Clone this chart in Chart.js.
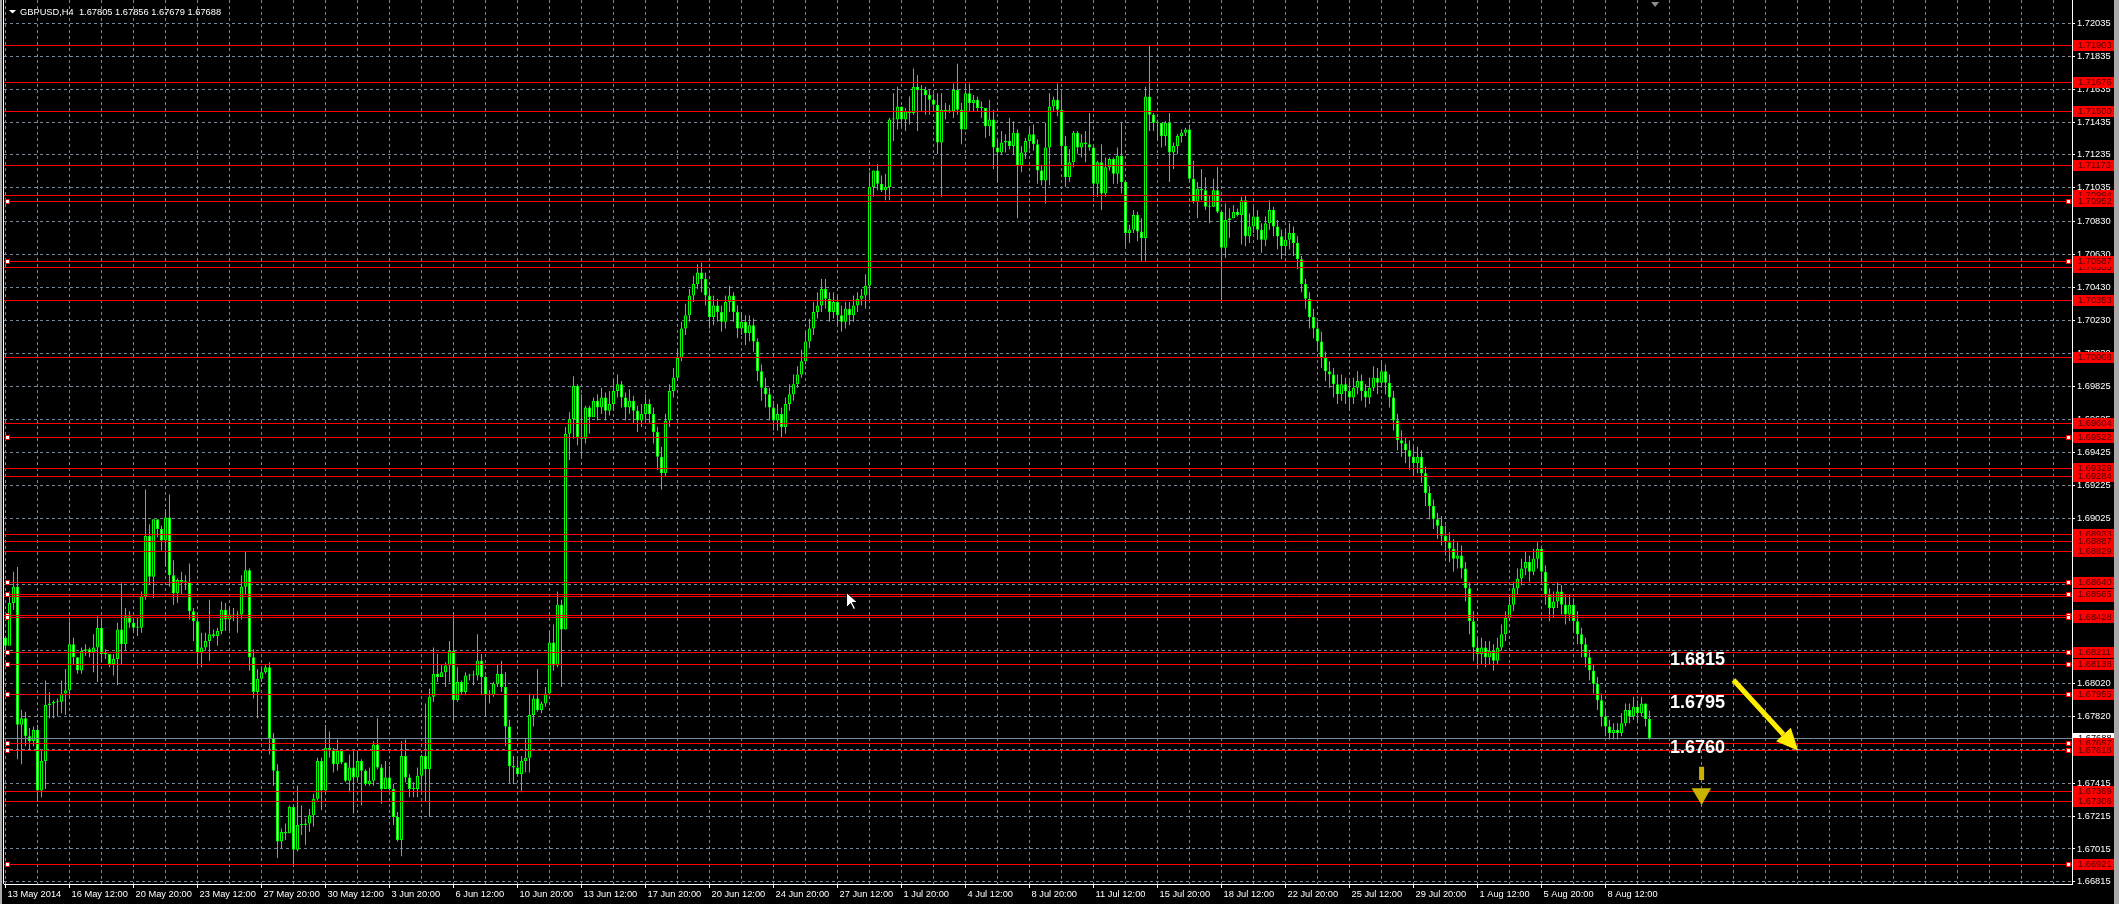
<!DOCTYPE html>
<html>
<head>
<meta charset="utf-8">
<title>GBPUSD,H4</title>
<script src="https://cdn.jsdelivr.net/npm/chart.js@4.4.1/dist/chart.umd.min.js"></script>
<style>
  html, body { margin: 0; padding: 0; background: #000; overflow: hidden; }
</style>
</head>
<body>
<canvas id="gbpusdChart" width="2119" height="904"></canvas>
<script>
const symbolName = "GBPUSD";
const timeframe = "H4";

// bottom axis labels, one every 16 bars
const timeLabels = ["13 May 2014", "16 May 12:00", "20 May 20:00", "23 May 12:00", "27 May 20:00",
  "30 May 12:00", "3 Jun 20:00", "6 Jun 12:00", "10 Jun 20:00", "13 Jun 12:00", "17 Jun 20:00",
  "20 Jun 12:00", "24 Jun 20:00", "27 Jun 12:00", "1 Jul 20:00", "4 Jul 12:00", "8 Jul 20:00",
  "11 Jul 12:00", "15 Jul 20:00", "18 Jul 12:00", "22 Jul 20:00", "25 Jul 12:00", "29 Jul 20:00",
  "1 Aug 12:00", "5 Aug 20:00", "8 Aug 12:00"];

// right axis price labels
const priceTicks = [1.72035, 1.71835, 1.71635, 1.71435, 1.71235, 1.71035, 1.70830, 1.70630, 1.70430,
  1.70230, 1.70030, 1.69825, 1.69625, 1.69425, 1.69225, 1.69025, 1.68825, 1.68625, 1.68420, 1.68220,
  1.68020, 1.67820, 1.67620, 1.67415, 1.67215, 1.67015, 1.66815];

// H4 candles (fx bars open at the previous close)
const firstOpen = 1.6830;
const closes = [
  1.6825,1.6851,1.6861,1.6777,1.6781,1.6770,1.6767,1.6774,1.6737,1.6755,1.6789,1.6790,1.6791,1.6791,1.6796,1.6798,
  1.6826,1.6818,1.6810,1.6822,1.6823,1.6821,1.6824,1.6836,1.6820,1.6820,1.6814,1.6817,1.6835,1.6826,1.6843,1.6839,
  1.6836,1.6836,1.6855,1.6892,1.6867,1.6902,1.6896,1.6889,1.6903,1.6868,1.6857,1.6865,1.6864,1.6864,1.6846,1.6840,
  1.6821,1.6824,1.6828,1.6832,1.6831,1.6834,1.6847,1.6841,1.6844,1.6843,1.6844,1.6861,1.6871,1.6818,1.6797,1.6805,
  1.6809,1.6812,1.6769,1.6749,1.6706,1.6712,1.6711,1.6727,1.6701,1.6716,1.6716,1.6717,1.6722,1.6732,1.6755,1.6737,
  1.6763,1.6762,1.6753,1.6761,1.6754,1.6743,1.6751,1.6745,1.6755,1.6749,1.6741,1.6743,1.6765,1.6751,1.6738,1.6745,
  1.6738,1.6721,1.6707,1.6758,1.6745,1.6738,1.6738,1.6746,1.6758,1.6750,1.6794,1.6808,1.6806,1.6809,1.6813,1.6822,
  1.6792,1.6803,1.6797,1.6807,1.6807,1.6807,1.6816,1.6806,1.6795,1.6795,1.6802,1.6808,1.6800,1.6776,1.6752,1.6751,
  1.6747,1.6755,1.6757,1.6783,1.6793,1.6786,1.6790,1.6796,1.6827,1.6813,1.6850,1.6835,1.6954,1.6963,1.6983,1.6952,
  1.6951,1.6970,1.6964,1.6974,1.6970,1.6976,1.6968,1.6972,1.6980,1.6984,1.6976,1.6970,1.6974,1.6968,1.6962,1.6966,
  1.6972,1.6966,1.6955,1.6940,1.6930,1.6962,1.6980,1.6988,1.7000,1.7018,1.7026,1.7038,1.7045,1.7052,1.7048,1.7038,
  1.7025,1.7032,1.7028,1.7022,1.7034,1.7038,1.7028,1.7018,1.7022,1.7015,1.7020,1.7010,1.6992,1.6982,1.6978,1.6970,
  1.6962,1.6966,1.6958,1.6972,1.6978,1.6984,1.6990,1.6998,1.7010,1.7018,1.7028,1.7032,1.7042,1.7036,1.7028,1.7034,
  1.7026,1.7022,1.7030,1.7026,1.7032,1.7036,1.7038,1.7044,1.7104,1.7114,1.7106,1.7102,1.7104,1.7145,1.7145,1.7153,
  1.7145,1.7150,1.7149,1.7165,1.7163,1.7163,1.7160,1.7157,1.7154,1.7131,1.7151,1.7150,1.7150,1.7163,1.7151,1.7139,
  1.7161,1.7155,1.7157,1.7152,1.7152,1.7141,1.7145,1.7128,1.7125,1.7131,1.7132,1.7129,1.7137,1.7117,1.7125,1.7132,
  1.7136,1.7130,1.7114,1.7108,1.7128,1.7153,1.7157,1.7151,1.7129,1.7110,1.7119,1.7137,1.7128,1.7131,1.7130,1.7128,
  1.7106,1.7119,1.7100,1.7116,1.7121,1.7112,1.7123,1.7107,1.7076,1.7078,1.7087,1.7077,1.7073,1.7159,1.7148,1.7143,
  1.7143,1.7135,1.7143,1.7125,1.7129,1.7135,1.7137,1.7139,1.7109,1.7095,1.7103,1.7102,1.7092,1.7092,1.7102,1.7089,
  1.7067,1.7084,1.7085,1.7089,1.7087,1.7096,1.7074,1.7080,1.7086,1.7078,1.7072,1.7082,1.7090,1.7080,1.7074,1.7068,
  1.7072,1.7076,1.7070,1.7060,1.7045,1.7036,1.7025,1.7018,1.7010,1.7000,1.6992,1.6990,1.6984,1.6978,1.6984,1.6980,
  1.6976,1.6982,1.6986,1.6980,1.6976,1.6982,1.6988,1.6985,1.6992,1.6985,1.6976,1.6962,1.6950,1.6948,1.6944,1.6940,
  1.6936,1.6940,1.6930,1.6918,1.6910,1.6902,1.6898,1.6892,1.6888,1.6884,1.6878,1.6880,1.6872,1.6860,1.6840,1.6824,
  1.6820,1.6824,1.6818,1.6822,1.6816,1.6824,1.6832,1.6842,1.6850,1.6860,1.6866,1.6872,1.6876,1.6870,1.6878,1.6884,
  1.6870,1.6856,1.6848,1.6852,1.6858,1.6850,1.6844,1.6850,1.6840,1.6832,1.6826,1.6818,1.6810,1.6802,1.6792,1.6782,
  1.6776,1.6772,1.6774,1.6772,1.6778,1.6786,1.6782,1.6788,1.6784,1.6790,1.67805,1.67688
];
const highs = [
  1.6831,1.6858,1.6870,1.6873,1.6786,1.6785,1.6775,1.6776,1.6777,1.6761,1.6804,1.6797,1.6792,1.6793,1.6804,1.6811,
  1.6840,1.6830,1.6818,1.6824,1.6826,1.6824,1.6832,1.6843,1.6841,1.6823,1.6819,1.6820,1.6839,1.6863,1.6848,1.6846,
  1.6841,1.6842,1.6858,1.6920,1.6899,1.6902,1.6902,1.6898,1.6908,1.6917,1.6877,1.6866,1.6870,1.6868,1.6875,1.6848,
  1.6843,1.6833,1.6833,1.6853,1.6835,1.6836,1.6852,1.6851,1.6848,1.6848,1.6846,1.6868,1.6882,1.6872,1.6823,1.6811,
  1.6812,1.6814,1.6815,1.6772,1.6753,1.6714,1.6717,1.6728,1.6728,1.6740,1.6728,1.6720,1.6726,1.6735,1.6757,1.6757,
  1.6777,1.6773,1.6763,1.6768,1.6762,1.6754,1.6759,1.6761,1.6761,1.6756,1.6750,1.6751,1.6767,1.6781,1.6753,1.6755,
  1.6752,1.6741,1.6724,1.6767,1.6768,1.6747,1.6742,1.6751,1.6759,1.6790,1.6799,1.6824,1.6820,1.6814,1.6815,1.6828,
  1.6845,1.6812,1.6804,1.6809,1.6808,1.6810,1.6832,1.6820,1.6807,1.6798,1.6803,1.6814,1.6816,1.6809,1.6780,1.6758,
  1.6756,1.6758,1.6769,1.6796,1.6795,1.6811,1.6791,1.6800,1.6833,1.6838,1.6858,1.6853,1.6958,1.6967,1.6989,1.6984,
  1.6978,1.6971,1.6971,1.6976,1.6978,1.6982,1.6979,1.6980,1.6987,1.6990,1.6986,1.6979,1.6981,1.6977,1.6971,1.6972,
  1.6978,1.6975,1.6970,1.6958,1.6946,1.6966,1.6984,1.6994,1.7006,1.7022,1.7033,1.7042,1.7050,1.7057,1.7058,1.7052,
  1.7042,1.7038,1.7036,1.7032,1.7038,1.7044,1.7040,1.7032,1.7028,1.7026,1.7026,1.7024,1.7012,1.6996,1.6988,1.6982,
  1.6974,1.6972,1.6970,1.6976,1.6984,1.6990,1.6995,1.7005,1.7016,1.7024,1.7034,1.7040,1.7048,1.7048,1.7040,1.7040,
  1.7038,1.7032,1.7034,1.7034,1.7038,1.7040,1.7042,1.7051,1.7113,1.7114,1.7118,1.7111,1.7112,1.7146,1.7161,1.7165,
  1.7153,1.7152,1.7159,1.7176,1.7172,1.7166,1.7165,1.7163,1.7161,1.7161,1.7161,1.7155,1.7154,1.7167,1.7179,1.7155,
  1.7167,1.7167,1.7160,1.7159,1.7156,1.7152,1.7157,1.7151,1.7133,1.7138,1.7136,1.7146,1.7144,1.7139,1.7129,1.7134,
  1.7140,1.7142,1.7133,1.7117,1.7143,1.7161,1.7159,1.7167,1.7161,1.7135,1.7127,1.7138,1.7138,1.7136,1.7138,1.7149,
  1.7129,1.7120,1.7130,1.7122,1.7122,1.7122,1.7128,1.7143,1.7108,1.7081,1.7090,1.7089,1.7085,1.7165,1.7190,1.7149,
  1.7145,1.7141,1.7144,1.7149,1.7131,1.7136,1.7139,1.7140,1.7142,1.7120,1.7107,1.7115,1.7110,1.7099,1.7109,1.7116,
  1.7089,1.7094,1.7091,1.7093,1.7091,1.7098,1.7099,1.7088,1.7092,1.7090,1.7082,1.7086,1.7096,1.7092,1.7084,1.7078,
  1.7078,1.7082,1.7080,1.7074,1.7062,1.7048,1.7040,1.7030,1.7022,1.7016,1.7004,1.6998,1.6994,1.6990,1.6990,1.6988,
  1.6986,1.6988,1.6992,1.6990,1.6984,1.6988,1.6995,1.6994,1.6998,1.6996,1.6990,1.6980,1.6966,1.6956,1.6952,1.6950,
  1.6946,1.6946,1.6944,1.6934,1.6922,1.6914,1.6906,1.6904,1.6898,1.6894,1.6890,1.6888,1.6886,1.6876,1.6864,1.6846,
  1.6830,1.6830,1.6828,1.6828,1.6826,1.6830,1.6838,1.6846,1.6856,1.6864,1.6872,1.6878,1.6882,1.6880,1.6884,1.6888,
  1.6886,1.6874,1.6860,1.6858,1.6864,1.6862,1.6856,1.6856,1.6854,1.6846,1.6836,1.6830,1.6822,1.6814,1.6806,1.6796,
  1.6786,1.6780,1.6778,1.6778,1.6784,1.6790,1.6790,1.6794,1.6792,1.6794,1.6790,1.67856
];
const lows = [
  1.6822,1.6827,1.6847,1.6756,1.6753,1.6764,1.6761,1.6764,1.6730,1.6733,1.6738,1.6781,1.6781,1.6782,1.6784,1.6783,
  1.6793,1.6814,1.6808,1.6808,1.6819,1.6818,1.6809,1.6803,1.6815,1.6817,1.6812,1.6807,1.6801,1.6814,1.6822,1.6836,
  1.6833,1.6831,1.6833,1.6853,1.6862,1.6854,1.6891,1.6883,1.6873,1.6861,1.6850,1.6851,1.6856,1.6859,1.6841,1.6828,
  1.6813,1.6812,1.6822,1.6816,1.6830,1.6825,1.6832,1.6834,1.6834,1.6840,1.6833,1.6841,1.6856,1.6810,1.6793,1.6781,
  1.6803,1.6808,1.6759,1.6740,1.6696,1.6702,1.6707,1.6711,1.6692,1.6700,1.6710,1.6704,1.6712,1.6715,1.6731,1.6725,
  1.6735,1.6757,1.6748,1.6749,1.6753,1.6742,1.6736,1.6723,1.6743,1.6728,1.6740,1.6740,1.6740,1.6750,1.6729,1.6738,
  1.6737,1.6716,1.6706,1.6697,1.6742,1.6733,1.6733,1.6733,1.6736,1.6730,1.6721,1.6791,1.6803,1.6806,1.6800,1.6803,
  1.6779,1.6791,1.6795,1.6795,1.6804,1.6801,1.6804,1.6795,1.6782,1.6790,1.6794,1.6800,1.6797,1.6764,1.6741,1.6741,
  1.6746,1.6736,1.6748,1.6748,1.6776,1.6785,1.6784,1.6788,1.6795,1.6810,1.6812,1.6800,1.6835,1.6938,1.6951,1.6947,
  1.6940,1.6948,1.6954,1.6966,1.6962,1.6966,1.6962,1.6965,1.6968,1.6976,1.6970,1.6962,1.6966,1.6960,1.6955,1.6958,
  1.6962,1.6960,1.6948,1.6932,1.6920,1.6928,1.6958,1.6976,1.6986,1.6998,1.7014,1.7022,1.7034,1.7042,1.7040,1.7032,
  1.7018,1.7020,1.7022,1.7016,1.7018,1.7028,1.7022,1.7012,1.7014,1.7008,1.7010,1.7004,1.6986,1.6974,1.6970,1.6962,
  1.6956,1.6956,1.6952,1.6954,1.6968,1.6974,1.6982,1.6988,1.6996,1.7006,1.7014,1.7024,1.7028,1.7030,1.7022,1.7024,
  1.7020,1.7016,1.7018,1.7020,1.7022,1.7028,1.7032,1.7030,1.7035,1.7098,1.7102,1.7101,1.7096,1.7096,1.7132,1.7139,
  1.7140,1.7138,1.7142,1.7148,1.7138,1.7150,1.7148,1.7148,1.7150,1.7124,1.7098,1.7145,1.7149,1.7146,1.7148,1.7130,
  1.7139,1.7150,1.7150,1.7150,1.7146,1.7134,1.7135,1.7115,1.7107,1.7124,1.7125,1.7127,1.7124,1.7085,1.7113,1.7121,
  1.7127,1.7126,1.7106,1.7105,1.7094,1.7105,1.7150,1.7147,1.7119,1.7104,1.7107,1.7116,1.7124,1.7122,1.7119,1.7126,
  1.7098,1.7098,1.7090,1.7098,1.7114,1.7106,1.7106,1.7100,1.7068,1.7070,1.7076,1.7071,1.7059,1.7059,1.7138,1.7138,
  1.7132,1.7128,1.7129,1.7107,1.7115,1.7124,1.7131,1.7135,1.7108,1.7094,1.7085,1.7096,1.7090,1.7082,1.7092,1.7088,
  1.7035,1.7061,1.7073,1.7085,1.7086,1.7069,1.7068,1.7070,1.7076,1.7072,1.7064,1.7068,1.7078,1.7074,1.7066,1.7060,
  1.7062,1.7066,1.7062,1.7054,1.7040,1.7030,1.7018,1.7012,1.7004,1.6994,1.6986,1.6982,1.6976,1.6972,1.6974,1.6972,
  1.6968,1.6972,1.6978,1.6974,1.6970,1.6972,1.6980,1.6978,1.6982,1.6978,1.6970,1.6956,1.6944,1.6940,1.6936,1.6932,
  1.6928,1.6930,1.6924,1.6910,1.6902,1.6896,1.6890,1.6886,1.6880,1.6876,1.6870,1.6872,1.6866,1.6852,1.6832,1.6816,
  1.6812,1.6814,1.6812,1.6814,1.6810,1.6814,1.6822,1.6828,1.6840,1.6846,1.6856,1.6862,1.6868,1.6864,1.6868,1.6872,
  1.6862,1.6850,1.6840,1.6842,1.6848,1.6844,1.6838,1.6840,1.6834,1.6826,1.6818,1.6812,1.6804,1.6796,1.6786,1.6776,
  1.6770,1.6768,1.6768,1.6768,1.6770,1.6776,1.6778,1.6780,1.6778,1.6782,1.6776,1.67679
];

// horizontal lines drawn on the chart (order = paint order of their axis tags)
const redLevels = [1.71903, 1.71676, 1.71500, 1.71173, 1.70994, 1.70952, 1.70555, 1.70587, 1.70353,
  1.70008, 1.69604, 1.69522, 1.69329, 1.69284, 1.68933, 1.68887, 1.68829, 1.68640, 1.68555, 1.68565,
  1.68440, 1.68428, 1.68211, 1.68138, 1.67955, 1.67657, 1.67618, 1.67369, 1.67306, 1.66921];
// lines that are selected (little squares at both ends)
const selectedLevels = [1.70952, 1.70587, 1.69522, 1.68640, 1.68565, 1.68440, 1.68428, 1.68211,
  1.68138, 1.67955, 1.67657, 1.67618, 1.66921];
const bidPrice = 1.67688;

// text notes on the right side
const noteTexts = ["1.6815", "1.6795", "1.6760"];
const notePrices = [1.68164, 1.67900, 1.67627];

const opens = closes.map((c, i) => (i === 0 ? firstOpen : closes[i - 1]));
const labelByBar = {};
timeLabels.forEach((t, k) => { labelByBar[k * 16] = t; });
const gridBars = [];
for (let b = 0; b <= 512; b += 8) gridBars.push(b);

const axisFont = { family: "'Liberation Sans', Arial, sans-serif", size: 9.3 };
const gridColor = "#778899";

function hline(ctx, x1, x2, y) {
  ctx.beginPath();
  ctx.moveTo(x1, y);
  ctx.lineTo(x2, y);
  ctx.stroke();
}

const mt4Look = {
  id: "mt4Look",
  beforeDraw(chart) {
    const ctx = chart.ctx;
    ctx.save();
    ctx.fillStyle = "#000";
    ctx.fillRect(0, 0, chart.width, chart.height);
    ctx.restore();
  },
  afterDraw(chart) {
    const { ctx, chartArea: a, scales: { x, y } } = chart;
    ctx.save();

    // window frame bits
    ctx.fillStyle = "#a9a9a9";
    ctx.fillRect(0, 0, 2, chart.height);
    ctx.fillRect(chart.width - 5, 0, 5, chart.height);
    ctx.strokeStyle = "#fff";
    ctx.lineWidth = 1;
    ctx.beginPath();
    ctx.moveTo(3.5, 0);
    ctx.lineTo(3.5, a.bottom);
    ctx.stroke();

    // bid line
    ctx.strokeStyle = gridColor;
    hline(ctx, a.left, a.right, Math.round(y.getPixelForValue(bidPrice)) + 0.5);

    // red levels
    ctx.strokeStyle = "#ff0000";
    redLevels.forEach(p => hline(ctx, a.left, a.right, Math.round(y.getPixelForValue(p)) + 0.5));

    // selection squares
    selectedLevels.forEach(p => {
      const yy = Math.round(y.getPixelForValue(p));
      [a.left + 1, a.right - 6].forEach(xx => {
        ctx.fillStyle = "#ff0000";
        ctx.fillRect(xx, yy - 2, 5, 5);
        ctx.fillStyle = "#fff";
        ctx.fillRect(xx + 1, yy - 1, 3, 3);
      });
    });

    // price tags on the axis
    ctx.font = "9.3px 'Liberation Sans', Arial, sans-serif";
    ctx.textBaseline = "middle";
    ctx.textAlign = "left";
    const tag = (p, bg, fg) => {
      const yy = Math.round(y.getPixelForValue(p));
      ctx.fillStyle = bg;
      ctx.fillRect(a.right + 1, yy - 5, 41, 11);
      ctx.fillStyle = fg;
      ctx.fillText(p.toFixed(5), a.right + 6, yy + 0.5);
    };
    tag(bidPrice, "#ffffff", "#000000");
    redLevels.forEach(p => tag(p, "#ff0000", "#4a0000"));

    // notes
    ctx.font = "bold 18px 'Liberation Sans', Arial, sans-serif";
    ctx.fillStyle = "#ffffff";
    noteTexts.forEach((t, k) => {
      ctx.fillText(t, x.getPixelForValue(416.1), y.getPixelForValue(notePrices[k]));
    });

    // yellow arrow (towards 1.6760)
    const x1 = x.getPixelForValue(432), y1 = y.getPixelForValue(1.68042);
    const x2 = x.getPixelForValue(448.2), y2 = y.getPixelForValue(1.67612);
    const ang = Math.atan2(y2 - y1, x2 - x1);
    const headLen = 22, headHalf = 10;
    const bx = x2 - headLen * Math.cos(ang), by = y2 - headLen * Math.sin(ang);
    ctx.strokeStyle = "#ffee00";
    ctx.fillStyle = "#ffee00";
    ctx.lineWidth = 5;
    ctx.beginPath();
    ctx.moveTo(x1, y1);
    ctx.lineTo(bx, by);
    ctx.stroke();
    ctx.beginPath();
    ctx.moveTo(x2, y2);
    ctx.lineTo(bx + headHalf * Math.sin(ang), by - headHalf * Math.cos(ang));
    ctx.lineTo(bx - headHalf * Math.sin(ang), by + headHalf * Math.cos(ang));
    ctx.closePath();
    ctx.fill();

    // small down arrow under 1.6760
    const dx = x.getPixelForValue(423.9);
    ctx.fillStyle = "#c9b300";
    ctx.fillRect(dx - 2, y.getPixelForValue(1.67515), 5, y.getPixelForValue(1.67434) - y.getPixelForValue(1.67515));
    ctx.beginPath();
    ctx.moveTo(dx - 9.5, y.getPixelForValue(1.67384));
    ctx.lineTo(dx + 10, y.getPixelForValue(1.67384));
    ctx.lineTo(dx + 0.5, y.getPixelForValue(1.67282));
    ctx.closePath();
    ctx.fill();

    // header
    ctx.fillStyle = "#fff";
    ctx.beginPath();
    ctx.moveTo(9, 10);
    ctx.lineTo(16, 10);
    ctx.lineTo(12.5, 13.5);
    ctx.closePath();
    ctx.fill();
    const last = closes.length - 1;
    ctx.font = "9.3px 'Liberation Sans', Arial, sans-serif";
    ctx.textBaseline = "middle";
    ctx.fillText(symbolName + "," + timeframe + "  " + [opens[last], highs[last], lows[last], closes[last]]
      .map(v => v.toFixed(5)).join(" "), 20, 12);

    // chart shift marker
    const sx = x.getPixelForValue(412.4);
    ctx.fillStyle = "#8c8c8c";
    ctx.beginPath();
    ctx.moveTo(sx - 4, 2);
    ctx.lineTo(sx + 4, 2);
    ctx.lineTo(sx, 7);
    ctx.closePath();
    ctx.fill();

    // mouse pointer
    const tx = Math.round(x.getPixelForValue(210.1)) + 0.5, ty = Math.round(y.getPixelForValue(1.68577)) + 0.5;
    ctx.beginPath();
    ctx.moveTo(tx, ty);
    ctx.lineTo(tx, ty + 15);
    ctx.lineTo(tx + 4, ty + 11);
    ctx.lineTo(tx + 7, ty + 17);
    ctx.lineTo(tx + 9, ty + 16);
    ctx.lineTo(tx + 6, ty + 10);
    ctx.lineTo(tx + 11, ty + 10);
    ctx.closePath();
    ctx.fillStyle = "#fff";
    ctx.fill();
    ctx.strokeStyle = "#000";
    ctx.lineWidth = 1;
    ctx.stroke();

    ctx.restore();
  }
};

const config = {
  type: "bar",
  data: {
    datasets: [
      {
        label: "wick",
        data: highs.map((h, i) => ({ x: i, y: [lows[i], h] })),
        backgroundColor: "#00ff00",
        borderWidth: 0,
        grouped: false,
        barPercentage: 1,
        categoryPercentage: 1,
        maxBarThickness: 1,
        inflateAmount: 0,
        order: 2
      },
      {
        label: "body",
        data: closes.map((c, i) => ({ x: i, y: [opens[i], c] })),
        backgroundColor: closes.map((c, i) => (c >= opens[i] ? "#000000" : "#ffffff")),
        borderColor: "#00ff00",
        borderWidth: 1,
        borderSkipped: false,
        minBarLength: 1,
        grouped: false,
        barPercentage: 1,
        categoryPercentage: 1,
        maxBarThickness: 3,
        inflateAmount: 0,
        order: 1
      }
    ]
  },
  options: {
    responsive: false,
    animation: false,
    devicePixelRatio: 1,
    events: [],
    layout: { padding: { left: 4, top: 0, right: 0, bottom: 0 } },
    plugins: { legend: { display: false }, tooltip: { enabled: false } },
    scales: {
      x: {
        type: "linear",
        position: "bottom",
        offset: false,
        min: -0.375,
        max: 516.625,
        afterBuildTicks: s => { s.ticks = gridBars.map(v => ({ value: v })); },
        afterFit: s => { s.height = 20; s.paddingLeft = 0; s.paddingRight = 0; },
        ticks: {
          autoSkip: false,
          maxRotation: 0,
          align: "start",
          labelOffset: 2,
          padding: 1,
          color: "#ffffff",
          font: axisFont,
          callback: v => labelByBar[v] || ""
        },
        grid: {
          offset: false,
          color: gridColor,
          tickLength: 4,
          tickColor: c => (c.tick && labelByBar[c.tick.value] !== undefined ? "#ffffff" : "rgba(0,0,0,0)"),
          tickBorderDash: []
        },
        border: { color: "#ffffff", width: 1, dash: [3, 3] }
      },
      y: {
        type: "linear",
        position: "right",
        min: 1.66802,
        max: 1.72177,
        afterBuildTicks: s => { s.ticks = priceTicks.map(v => ({ value: v })); },
        afterFit: s => { s.width = 47; s.paddingTop = 0; s.paddingBottom = 0; },
        ticks: {
          autoSkip: false,
          padding: 2,
          color: "#ffffff",
          font: axisFont,
          callback: v => v.toFixed(5)
        },
        grid: { color: gridColor, tickLength: 3, tickColor: "#ffffff", tickBorderDash: [] },
        border: { color: "#ffffff", width: 1, dash: [3, 3] }
      }
    }
  },
  plugins: [mt4Look]
};

const ctxCandles = document.getElementById("gbpusdChart").getContext("2d");
new Chart(ctxCandles, config);
</script>
</body>
</html>
